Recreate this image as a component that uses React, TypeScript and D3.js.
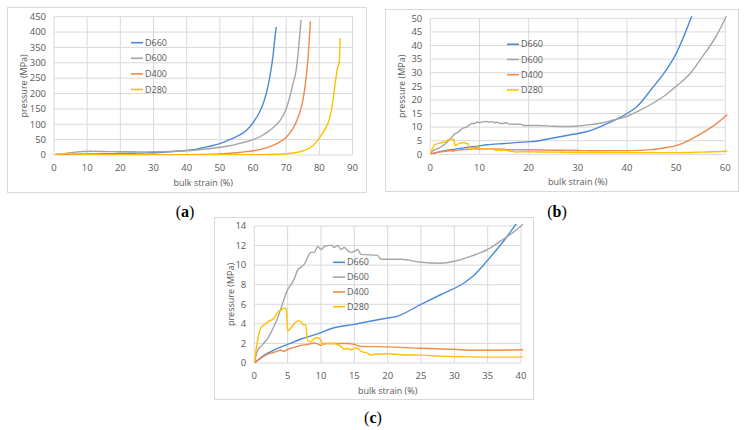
import * as d3 from "d3"

// pressure vs. bulk strain, one [strain %, pressure MPa] list per foam density
const d660: [number, number][] = [
  [0, 0], [1, 0.55], [2, 1.0], [3, 1.35], [5, 1.9], [7, 2.45], [10, 3.1], [11.5, 3.5], [15, 3.95],
  [20.5, 4.65], [21, 4.7], [25, 6], [28, 7], [31.5, 8.2], [33, 9], [35, 10.5], [38, 13], [40, 15],
  [42, 17.5], [45, 24], [48, 31], [50, 37], [53, 50], [55, 60], [58, 80], [60, 105], [62, 140],
  [63, 165], [64, 200], [65, 250], [66, 320], [66.7, 390], [67, 417],
]

const d600: [number, number][] = [
  [0, 0], [0.5, 1.3], [1, 1.7], [1.5, 2.1], [2, 2.5], [2.5, 3.1], [3, 3.8], [3.5, 4.6], [4, 5.6],
  [4.5, 6.6], [5, 7.5], [5.5, 8.0], [6, 8.6], [6.5, 9.5], [7, 9.8], [7.5, 10.1], [8, 10.8],
  [8.5, 11.3], [9, 11.3], [9.5, 11.9], [10, 11.6], [10.5, 11.9], [11, 12], [11.5, 12.05],
  [12, 11.8], [12.5, 12], [13, 11.6], [13.5, 11.8], [14, 11.5], [14.5, 11.3], [15, 11.4],
  [15.5, 11.6], [16, 11.1], [18.5, 11], [19, 10.6], [20, 10.6], [22, 10.6], [25, 10.3],
  [28, 10.2], [30, 10.4], [32, 10.8], [35, 11.6], [37, 12.5], [40, 14], [43, 16.5], [45, 18.5],
  [48, 22], [50, 25], [53, 30], [55, 35], [58, 43], [60, 50], [63, 65], [65, 80], [68, 110],
  [70, 150], [71, 185], [72, 230], [73, 275], [73.5, 320], [74, 380], [74.5, 440],
]

const d400: [number, number][] = [
  [0, 0], [1, 0.5], [2, 0.9], [3, 1.1], [4, 1.3], [4.5, 1.2], [5, 1.4], [6, 1.6], [7, 1.8],
  [8, 1.9], [9, 2.05], [9.5, 1.95], [10, 1.8], [10.5, 2.0], [12, 2.0], [14, 2.0], [15, 1.9],
  [16, 1.7], [20, 1.65], [25, 1.5], [30, 1.4], [33, 1.3], [40, 1.35], [45, 1.7], [48, 2.5],
  [50, 3.2], [53, 5.5], [55, 7.5], [58, 11], [60, 14], [63, 20], [65, 27], [68, 42], [70, 58],
  [72, 85], [74, 135], [75, 175], [76, 250], [76.7, 330], [77.3, 435],
]

const d280: [number, number][] = [
  [0, 0], [0.3, 1.5], [0.7, 3], [1, 3.6], [1.5, 3.9], [2, 4.2], [3, 4.6], [3.5, 5.2], [4, 5.4],
  [4.5, 5.6], [4.8, 5.5], [5, 3.3], [5.5, 3.6], [6, 4.0], [6.5, 4.3], [7, 4.25], [7.3, 3.9],
  [7.7, 3.95], [8, 2.3], [8.5, 2.2], [9, 2.5], [9.5, 2.6], [10, 2.3], [10.2, 1.9], [11, 2.0],
  [12, 2.0], [13, 1.7], [13.5, 1.4], [14, 1.5], [14.5, 1.35], [15, 1.5], [15.5, 1.5], [16, 1.2],
  [17, 1.0], [17.5, 0.8], [18, 0.9], [20, 0.95], [22, 0.85], [25, 0.8], [28, 0.7], [30, 0.65],
  [35, 0.6], [40, 0.6], [50, 0.6], [55, 0.8], [60, 1.1], [65, 2], [70, 4], [73, 8], [75, 13],
  [78, 30], [80, 55], [82, 90], [83, 115], [84, 170], [85, 250], [85.5, 285], [86, 300], [86.3, 380],
]

const seriesNames = ["D660", "D600", "D400", "D280"]
const seriesData = [d660, d600, d400, d280]
const colors = ["#4a8ad8", "#a5a5a5", "#f08a4b", "#ffc000"]

const xTicksA = [0, 10, 20, 30, 40, 50, 60, 70, 80, 90]
const yTicksA = [0, 50, 100, 150, 200, 250, 300, 350, 400, 450]
const xTicksB = [0, 10, 20, 30, 40, 50, 60]
const yTicksB = [0, 5, 10, 15, 20, 25, 30, 35, 40, 45, 50]
const xTicksC = [0, 5, 10, 15, 20, 25, 30, 35, 40]
const yTicksC = [0, 2, 4, 6, 8, 10, 12, 14]

const FONT = "'Open Sans', sans-serif"
const TEXT = "#595959"
const GRID = "#d9d9d9"

interface PanelProps {
  id: string
  letter: string
  frame: { x: number; y: number; w: number; h: number }
  plot: { left: number; right: number; top: number; bottom: number }
  xTicks: number[]
  yTicks: number[]
  legend: { x: number; y: number; step: number }
  caption: { x: number; y: number }
}

function Panel({ id, letter, frame, plot, xTicks, yTicks, legend, caption }: PanelProps) {
  const x = d3.scaleLinear().domain([xTicks[0], xTicks[xTicks.length - 1]]).range([plot.left, plot.right])
  const y = d3.scaleLinear().domain([yTicks[0], yTicks[yTicks.length - 1]]).range([plot.bottom, plot.top])
  const line = d3
    .line<[number, number]>()
    .x((d) => x(d[0]))
    .y((d) => y(d[1]))
    .curve(d3.curveMonotoneX)
  const midY = (plot.top + plot.bottom) / 2

  return (
    <g>
      <rect x={frame.x} y={frame.y} width={frame.w} height={frame.h} fill="#fff" stroke={GRID} strokeWidth={1} />
      <clipPath id={`clip-${id}`}>
        <rect x={plot.left} y={plot.top - 2} width={plot.right - plot.left + 2} height={plot.bottom - plot.top + 2} />
      </clipPath>
      {yTicks.map((t) => (
        <line key={`h${t}`} x1={plot.left} x2={plot.right} y1={y(t)} y2={y(t)} stroke={GRID} strokeWidth={1} />
      ))}
      {xTicks.map((t) => (
        <line key={`v${t}`} x1={x(t)} x2={x(t)} y1={plot.top} y2={plot.bottom} stroke={GRID} strokeWidth={1} />
      ))}
      {yTicks.map((t) => (
        <text key={`yl${t}`} x={plot.left - 8} y={y(t)} dy="0.35em" textAnchor="end" fontSize={9.5} fill={TEXT} fontFamily={FONT}>
          {t}
        </text>
      ))}
      {xTicks.map((t) => (
        <text key={`xl${t}`} x={x(t)} y={plot.bottom + 13} dy="0.35em" textAnchor="middle" fontSize={9.5} fill={TEXT} fontFamily={FONT}>
          {t}
        </text>
      ))}
      <g clipPath={`url(#clip-${id})`}>
        {seriesData.map((s, i) => (
          <path key={seriesNames[i]} d={line(s) ?? ""} fill="none" stroke={colors[i]} strokeWidth={1.4} />
        ))}
      </g>
      {seriesNames.map((n, i) => (
        <g key={`lg${n}`} transform={`translate(${legend.x},${legend.y + i * legend.step})`}>
          <line x1={0} x2={12} y1={0} y2={0} stroke={colors[i]} strokeWidth={1.6} />
          <text x={14} y={0} dy="0.35em" fontSize={9} fill={TEXT} fontFamily={FONT}>
            {n}
          </text>
        </g>
      ))}
      <text x={(plot.left + plot.right) / 2} y={plot.bottom + 28} dy="0.35em" textAnchor="middle" fontSize={9} fill={TEXT} fontFamily={FONT}>
        bulk strain (%)
      </text>
      <text
        transform={`translate(${frame.x + 16},${midY}) rotate(-90)`}
        dy="0.35em"
        textAnchor="middle"
        fontSize={9}
        fill={TEXT}
        fontFamily={FONT}
      >
        pressure (MPa)
      </text>
      <text x={caption.x} y={caption.y} dy="0.35em" textAnchor="middle" fontSize={16} fill="#000" fontFamily="'Liberation Serif', serif">
        (<tspan fontWeight="bold">{letter}</tspan>)
      </text>
    </g>
  )
}

export default function App() {
  return (
    <svg width={746} height={430} style={{ position: "absolute", left: 0, top: 0, background: "#fff" }}>
      <Panel
        id="a"
        letter="a"
        frame={{ x: 7.5, y: 7.5, w: 359, h: 185 }}
        plot={{ left: 54, right: 352.5, top: 16.7, bottom: 155 }}
        xTicks={xTicksA}
        yTicks={yTicksA}
        legend={{ x: 131, y: 42.7, step: 15.6 }}
        caption={{ x: 185, y: 211 }}
      />
      <Panel
        id="b"
        letter="b"
        frame={{ x: 385.5, y: 9.5, w: 353, h: 182 }}
        plot={{ left: 430.3, right: 725.3, top: 18.3, bottom: 154.3 }}
        xTicks={xTicksB}
        yTicks={yTicksB}
        legend={{ x: 507, y: 44.3, step: 15.2 }}
        caption={{ x: 557, y: 211 }}
      />
      <Panel
        id="c"
        letter="c"
        frame={{ x: 214.5, y: 217.5, w: 319, h: 182 }}
        plot={{ left: 254.3, right: 521, top: 226, bottom: 363 }}
        xTicks={xTicksC}
        yTicks={yTicksC}
        legend={{ x: 333, y: 262.3, step: 14.8 }}
        caption={{ x: 373, y: 417 }}
      />
    </svg>
  )
}
